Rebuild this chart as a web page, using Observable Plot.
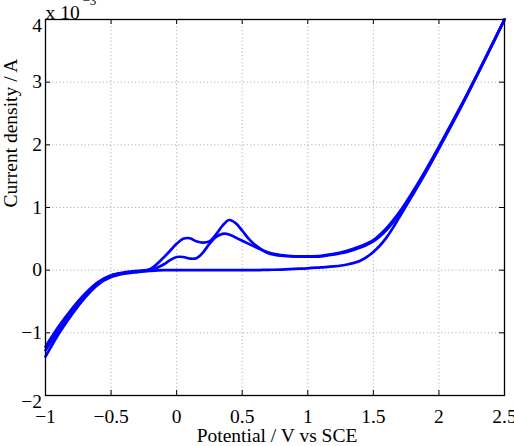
<!DOCTYPE html>
<html>
<head>
<meta charset="utf-8">
<script src="https://cdn.jsdelivr.net/npm/d3@7"></script>
<script src="https://cdn.jsdelivr.net/npm/@observablehq/plot@0.6"></script>
<style>
  body { margin: 0; background: #fff; }
</style>
</head>
<body>
<div id="chart"></div>
<script>
// Cyclic voltammogram: current density (×10⁻³ A) against potential (V vs SCE)
const potential = [-1.0, -0.9, -0.8, -0.7, -0.6, -0.5, -0.4, -0.3, -0.2, -0.1, -0.05,
  0.0, 0.05, 0.1, 0.15, 0.2, 0.25, 0.3, 0.35, 0.4, 0.45, 0.5, 0.55, 0.6,
  0.7, 0.8, 0.9, 1.0, 1.1, 1.2, 1.3, 1.4, 1.5, 1.6, 1.7, 1.8, 1.9, 2.0, 2.1, 2.2, 2.3, 2.4, 2.5];

// first scan: no oxidation peaks, flat baseline until oxygen evolution
const scan1 = [-1.38, -1.02, -0.71, -0.44, -0.23, -0.11, -0.055, -0.03, -0.012, 0, 0,
  0, 0, 0, 0, 0, 0, 0, 0, 0, 0, 0, 0, 0,
  0.005, 0.01, 0.02, 0.03, 0.045, 0.06, 0.09, 0.15, 0.29, 0.52, 0.85, 1.20, 1.56, 1.94, 2.33, 2.73, 3.15, 3.57, 4.0];

// scan with the two strong peaks
const scan2 = [-1.22, -0.90, -0.62, -0.38, -0.19, -0.08, -0.035, -0.01, 0.02, 0.20, 0.31,
  0.42, 0.50, 0.51, 0.46, 0.44, 0.46, 0.57, 0.71, 0.80, 0.75, 0.63, 0.50, 0.40,
  0.27, 0.23, 0.22, 0.22, 0.23, 0.26, 0.31, 0.38, 0.48, 0.67, 0.93, 1.25, 1.60, 1.97, 2.36, 2.75, 3.16, 3.58, 4.0];

// scan with the weaker peaks
const scan3 = [-1.28, -0.96, -0.66, -0.41, -0.21, -0.09, -0.045, -0.02, 0.0, 0.09, 0.16,
  0.21, 0.21, 0.185, 0.19, 0.28, 0.42, 0.53, 0.58, 0.57, 0.52, 0.47, 0.42, 0.37,
  0.28, 0.24, 0.22, 0.215, 0.22, 0.25, 0.29, 0.36, 0.46, 0.64, 0.90, 1.22, 1.57, 1.95, 2.34, 2.74, 3.15, 3.57, 4.0];

const xTicks = [-1, -0.5, 0, 0.5, 1, 1.5, 2, 2.5];
const yTicks = [-2, -1, 0, 1, 2, 3, 4];

const scans = [
  {name: "scan 1", current: scan1},
  {name: "scan 2", current: scan2},
  {name: "scan 3", current: scan3}
];
const rows = scans.flatMap(s => potential.map((v, i) => ({scan: s.name, potential: v, current: s.current[i]})));

const fmt = d => d < 0 ? "\u2212" + (-d) : String(d);

const W = 514, H = 446;
const mL = 45, mR = 10, mT = 19, mB = 51;
const innerW = W - mL - mR, innerH = H - mT - mB;
const font = '"Liberation Serif", "Times New Roman", serif';
const fs = 19.5;

const chart = Plot.plot({
  width: W,
  height: H,
  marginLeft: mL, marginRight: mR, marginTop: mT, marginBottom: mB,
  style: {fontFamily: font, fontSize: fs + "px", background: "white", overflow: "visible"},
  x: {domain: [-1, 2.5]},
  y: {domain: [-2, 4]},
  marks: [
    Plot.gridX(xTicks, {stroke: "#b4b4b4", strokeOpacity: 1, strokeDasharray: "1.2,2.4"}),
    Plot.gridY(yTicks, {stroke: "#b4b4b4", strokeOpacity: 1, strokeDasharray: "1.2,2.4"}),
    Plot.line(rows, {x: "potential", y: "current", z: "scan", stroke: "#0000ff", strokeWidth: 2.7, curve: "catmull-rom"}),
    Plot.frame({stroke: "black", strokeWidth: 1.3}),
    // inward ticks on all four sides
    Plot.tickX(xTicks, {x: d => d, insetTop: innerH - 5, stroke: "black"}),
    Plot.tickX(xTicks, {x: d => d, insetBottom: innerH - 5, stroke: "black"}),
    Plot.tickY(yTicks, {y: d => d, insetRight: innerW - 5, stroke: "black"}),
    Plot.tickY(yTicks, {y: d => d, insetLeft: innerW - 5, stroke: "black"}),
    Plot.axisX(xTicks, {tickSize: 0, tickPadding: 14, tickFormat: fmt, label: null, fontSize: fs, fill: "black"}),
    Plot.axisY(yTicks.filter(d => d > -2 && d < 4), {tickSize: 0, tickPadding: 3.5, tickFormat: fmt, label: null, fontSize: fs, fill: "black"}),
    Plot.axisY([4], {tickSize: 0, tickPadding: 3.5, tickFormat: fmt, label: null, fontSize: fs, fill: "black", dy: 6}),
    Plot.axisY([-2], {tickSize: 0, tickPadding: 3.5, tickFormat: fmt, label: null, fontSize: fs, fill: "black", dy: 6}),
    Plot.text(["Potential / V vs SCE"], {text: d => d, frameAnchor: "bottom", dy: 46.5, dx: 2, fontSize: fs, fill: "black"}),
    Plot.text(["Current density / A"], {text: d => d, frameAnchor: "left", rotate: -90, dx: -35, fontSize: fs, fill: "black"}),
    Plot.text(["x 10"], {text: d => d, frameAnchor: "top-left", textAnchor: "start", lineAnchor: "bottom", dy: -1, fontSize: fs, fill: "black"}),
    Plot.text(["\u22123"], {text: d => d, frameAnchor: "top-left", textAnchor: "start", lineAnchor: "bottom", dx: 37, dy: -15, fontSize: 13, fill: "black"})
  ]
});

document.getElementById("chart").appendChild(chart);
</script>
</body>
</html>
